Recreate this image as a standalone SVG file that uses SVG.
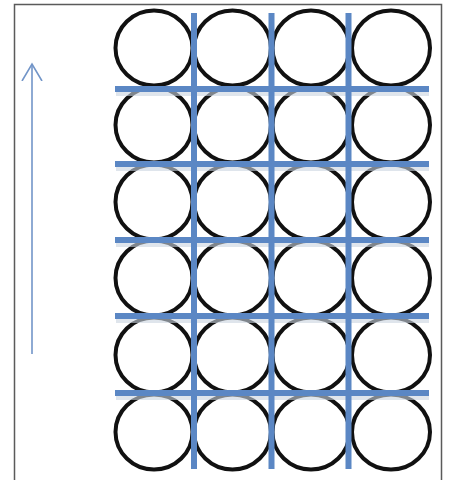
<svg xmlns="http://www.w3.org/2000/svg" width="449" height="480" viewBox="0 0 449 480">
<style>
.cell{fill:none;stroke:#111;stroke-width:4}
.grid{stroke:#5b87c4;stroke-width:6;fill:none}
.gshadow{stroke:#c9d3e0;stroke-width:6;fill:none;opacity:0.6}
.frame{stroke:#5a5a5a;stroke-width:1.5;fill:none}
.arrow{stroke:#7295c8;stroke-width:1.6;fill:none}
</style>
<defs>
<marker id="head" markerWidth="20" markerHeight="24" refX="17" refY="11" orient="auto" markerUnits="userSpaceOnUse" viewBox="0 0 20 22">
<path d="M0,1 L17,11 L0,21" fill="none" stroke="#7295c8" stroke-width="1.6"/>
</marker>
</defs>
<rect width="449" height="480" fill="#fff"/>
<path class="frame" d="M14.5,482 V4.5 H441.5 V482"/>
<g id="nodes">
<g id="r1c1"><ellipse class="cell" cx="154" cy="48" rx="38.5" ry="37.5"/></g>
<g id="r1c2"><ellipse class="cell" cx="232.5" cy="48" rx="38.5" ry="37.5"/></g>
<g id="r1c3"><ellipse class="cell" cx="311" cy="48" rx="38.5" ry="37.5"/></g>
<g id="r1c4"><ellipse class="cell" cx="391" cy="48" rx="39" ry="37.5"/></g>
<g id="r2c1"><ellipse class="cell" cx="154" cy="125" rx="38.5" ry="37.5"/></g>
<g id="r2c2"><ellipse class="cell" cx="232.5" cy="125" rx="38.5" ry="37.5"/></g>
<g id="r2c3"><ellipse class="cell" cx="311" cy="125" rx="38.5" ry="37.5"/></g>
<g id="r2c4"><ellipse class="cell" cx="391" cy="125" rx="39" ry="37.5"/></g>
<g id="r3c1"><ellipse class="cell" cx="154" cy="202" rx="38.5" ry="37.5"/></g>
<g id="r3c2"><ellipse class="cell" cx="232.5" cy="202" rx="38.5" ry="37.5"/></g>
<g id="r3c3"><ellipse class="cell" cx="311" cy="202" rx="38.5" ry="37.5"/></g>
<g id="r3c4"><ellipse class="cell" cx="391" cy="202" rx="39" ry="37.5"/></g>
<g id="r4c1"><ellipse class="cell" cx="154" cy="278" rx="38.5" ry="37.5"/></g>
<g id="r4c2"><ellipse class="cell" cx="232.5" cy="278" rx="38.5" ry="37.5"/></g>
<g id="r4c3"><ellipse class="cell" cx="311" cy="278" rx="38.5" ry="37.5"/></g>
<g id="r4c4"><ellipse class="cell" cx="391" cy="278" rx="39" ry="37.5"/></g>
<g id="r5c1"><ellipse class="cell" cx="154" cy="355" rx="38.5" ry="37.5"/></g>
<g id="r5c2"><ellipse class="cell" cx="232.5" cy="355" rx="38.5" ry="37.5"/></g>
<g id="r5c3"><ellipse class="cell" cx="311" cy="355" rx="38.5" ry="37.5"/></g>
<g id="r5c4"><ellipse class="cell" cx="391" cy="355" rx="39" ry="37.5"/></g>
<g id="r6c1"><ellipse class="cell" cx="154" cy="432" rx="38.5" ry="37.5"/></g>
<g id="r6c2"><ellipse class="cell" cx="232.5" cy="432" rx="38.5" ry="37.5"/></g>
<g id="r6c3"><ellipse class="cell" cx="311" cy="432" rx="38.5" ry="37.5"/></g>
<g id="r6c4"><ellipse class="cell" cx="391" cy="432" rx="39" ry="37.5"/></g>
</g>
<g id="connectors">
<g id="grid-shadow">
<path class="gshadow" d="M116,93 H429 M116,168 H429 M116,244 H429 M116,320 H429 M116,397 H429"/>
</g>
<g id="grid-lines">
<path class="grid" d="M194,13 V469 M271.5,13 V469 M348.5,13 V469"/>
<path class="grid" d="M115,89 H429 M115,164 H429 M115,240 H429 M115,316 H429 M115,393 H429"/>
</g>
<g id="arrow">
<line class="arrow" x1="32" y1="354" x2="32" y2="64" marker-end="url(#head)"/>
</g>
</g>
</svg>
